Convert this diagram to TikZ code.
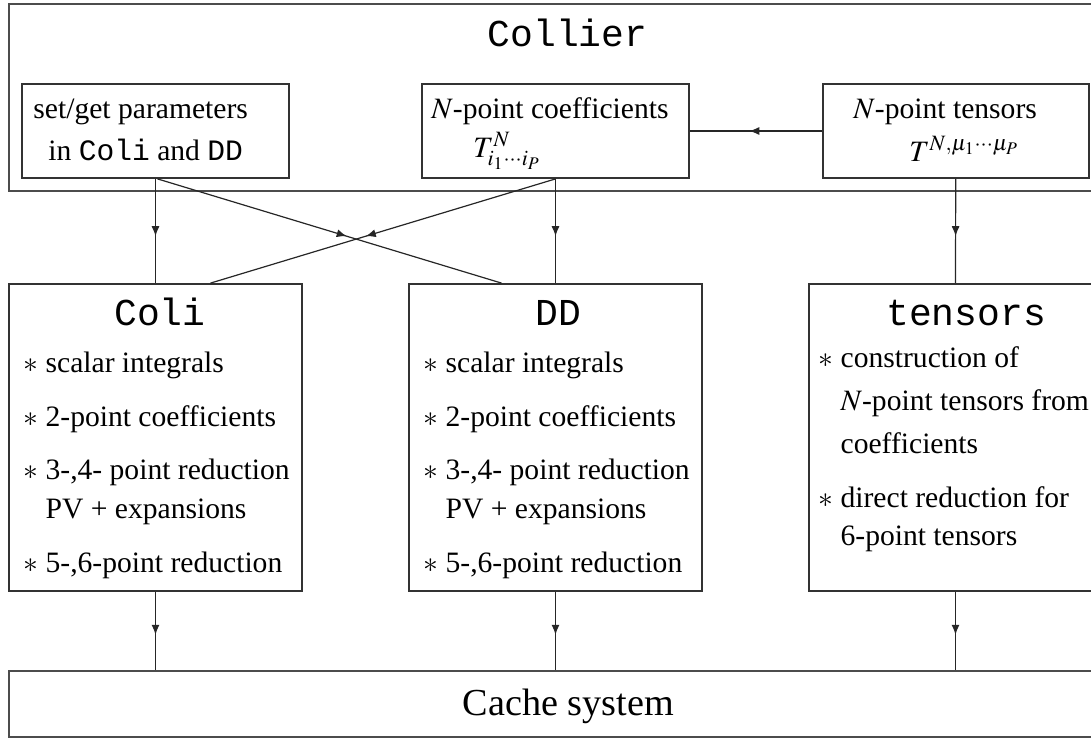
\documentclass[tikz,border=0pt]{standalone}
\usepackage{mathptmx}
\usepackage[no-math]{fontspec}
\setmainfont{Liberation Serif}
\setmonofont{Liberation Mono}
\usetikzlibrary{arrows.meta,decorations.markings}
\tikzset{
  box/.style={draw=black!80, line width=0.9pt, inner sep=0pt},
  bigbox/.style={draw=black!70, line width=1.1pt, inner sep=0pt},
  conn/.style={draw=black!85, line width=0.6pt},
  arr/.style={conn, decoration={markings, mark=at position 0.55 with {\arrow{Latex[length=5pt,width=4pt]}}}, postaction={decorate}},
  body/.style={inner sep=0pt, font=\fontsize{14.8pt}{20pt}\selectfont},
  ttl/.style={inner sep=0pt, font=\fontsize{19pt}{23pt}\selectfont\ttfamily},
  itm/.style={body, anchor=base west},
}
\begin{document}
\begin{tikzpicture}[x=0.5pt,y=-0.5pt]
\useasboundingbox (0,0) rectangle (1091,738);
\clip (0,0) rectangle (1091,738);
% boxes
\node[bigbox, minimum width=558.5pt, minimum height=93.5pt] (collier) at (567.5,97.5) {};
\node[ttl, anchor=base] (colliert) at (567.5,47) {Collier};
\node[box, minimum width=133.5pt, minimum height=47pt] (setget) at (155.5,131) {};
\node[box, minimum width=133.5pt, minimum height=47pt] (coeff) at (555.5,131) {};
\node[box, minimum width=133pt, minimum height=47pt] (tens) at (955.7,131) {};
\node[box, minimum width=146.8pt, minimum height=153.5pt] (coli) at (155.5,437.5) {};
\node[box, minimum width=146.5pt, minimum height=153.5pt] (dd) at (555.5,437.5) {};
\node[box, minimum width=146.5pt, minimum height=153.5pt] (tensorsbox) at (955.5,437.5) {};
\node[bigbox, minimum width=558.5pt, minimum height=33pt] (cache) at (567.5,704) {};
% top box texts
\node[itm] (sg1) at (33,119) {set/get parameters};
\node[itm] (sg2) at (48,160) {in \texttt{Coli} and \texttt{DD}};
\node[itm] (cf1) at (431,119) {$N$-point coefficients};
\node[itm] (cf2) at (473,157) {$T^N_{i_1\cdots i_P}$};
\node[itm] (tn1) at (853,119) {$N$-point tensors};
\node[itm] (tn2) at (909,161) {$T^{N,\mu_1\cdots\mu_P}$};
% titles
\node[ttl, anchor=base] (colit) at (160,325) {Coli};
\node[ttl, anchor=base] (ddt) at (558,325) {DD};
\node[ttl, anchor=base] (tenst) at (966,325) {tensors};
% Coli items
\node[itm] (c1) at (23,372) {$\ast$ scalar integrals};
\node[itm] (c2) at (23,426) {$\ast$ 2-point coefficients};
\node[itm] (c3) at (23,479) {$\ast$ 3-,4- point reduction};
\node[itm] (c4) at (23,518) {\phantom{$\ast$} PV + expansions};
\node[itm] (c5) at (23,572) {$\ast$ 5-,6-point reduction};
% DD items
\node[itm] (d1) at (423,372) {$\ast$ scalar integrals};
\node[itm] (d2) at (423,426) {$\ast$ 2-point coefficients};
\node[itm] (d3) at (423,479) {$\ast$ 3-,4- point reduction};
\node[itm] (d4) at (423,518) {\phantom{$\ast$} PV + expansions};
\node[itm] (d5) at (423,572) {$\ast$ 5-,6-point reduction};
% tensors items
\node[itm] (t1) at (818,367) {$\ast$ construction of};
\node[itm] (t2) at (818,410) {\phantom{$\ast$} $N$-point tensors from};
\node[itm] (t3) at (818,453) {\phantom{$\ast$} coefficients};
\node[itm] (t4) at (818,507) {$\ast$ direct reduction for};
\node[itm] (t5) at (818,545) {\phantom{$\ast$} 6-point tensors};
% Cache
\node[inner sep=0pt, anchor=base, font=\fontsize{19.1pt}{23pt}\selectfont] (cachet) at (568.5,715) {Cache system};
% connectors
\draw[arr] (tens.west) -- (coeff.east);
\draw[arr] (setget.south) -- (coli.north);
\draw[arr] (coeff.south) -- (dd.north);
\draw[arr] (tens.south) -- (tensorsbox.north);
\draw[arr] ([xshift=1pt]setget.south) -- ([xshift=-27pt]dd.north);
\draw[arr] (coeff.south) -- ([xshift=27.5pt]coli.north);
\draw[arr] (coli.south) -- (coli.south |- cache.north);
\draw[arr] (dd.south) -- (dd.south |- cache.north);
\draw[arr] (tensorsbox.south) -- (tensorsbox.south |- cache.north);
\end{tikzpicture}
\end{document}
